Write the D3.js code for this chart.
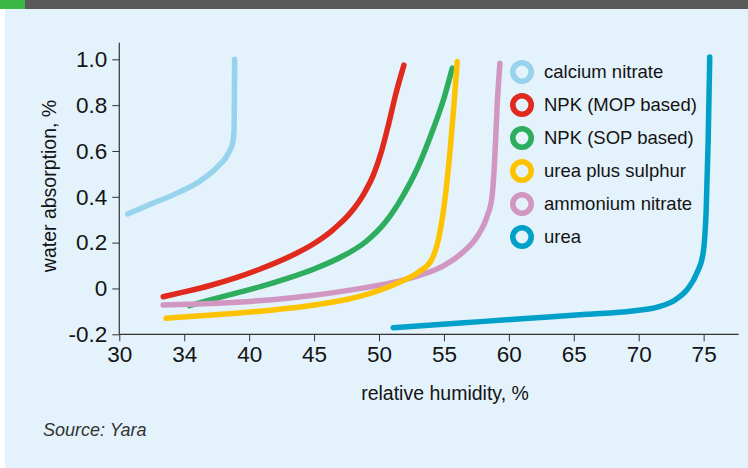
<!DOCTYPE html>
<html>
<head>
<meta charset="utf-8">
<script src="https://cdn.jsdelivr.net/npm/d3@7"></script>
<style>
  body { margin: 0; background: #fff; }
  svg text { font-family: "Liberation Sans", Arial, sans-serif; fill: #141414; }
</style>
</head>
<body>
<div id="chart"></div>
<script>
// humidity (%) vs water absorption (%)
let calciumNitrate = [[30.65,0.325],[32.3,0.365],[34.4,0.415],[36.2,0.468],[37.5,0.527],[38.4,0.59],[38.75,0.64],[38.84,0.7],[38.86,0.8],[38.88,1.0]];
let npkMop = [[33.38,-0.036],[35,-0.015],[37,0.013],[39,0.047],[41,0.088],[43,0.136],[45,0.196],[46.5,0.258],[47.8,0.33],[48.8,0.41],[49.6,0.5],[50.2,0.6],[50.75,0.72],[51.3,0.85],[51.92,0.975]];
let npkSop = [[35.4,-0.075],[37,-0.05],[39,-0.02],[41,0.01],[43,0.045],[45,0.085],[47,0.135],[49,0.205],[50.5,0.29],[51.8,0.4],[53,0.53],[54.2,0.7],[55,0.83],[55.64,0.961]];
let ureaSulphur = [[33.6,-0.13],[36,-0.12],[39,-0.108],[42,-0.093],[45,-0.072],[47.5,-0.048],[49.5,-0.018],[51.5,0.025],[53,0.07],[54,0.12],[54.6,0.22],[55.1,0.4],[55.5,0.62],[55.8,0.82],[56.02,0.99]];
let ammoniumNitrate = [[33.38,-0.072],[36,-0.068],[39,-0.06],[42,-0.048],[45,-0.03],[48,-0.005],[51,0.025],[53,0.055],[55,0.1],[56.5,0.16],[57.6,0.23],[58.3,0.31],[58.7,0.4],[58.9,0.55],[59.1,0.8],[59.31,0.983]];
let urea = [[51.09,-0.171],[56,-0.152],[61,-0.132],[66,-0.113],[69.5,-0.098],[71.5,-0.08],[72.8,-0.05],[73.8,0.0],[74.5,0.07],[74.95,0.15],[75.2,0.35],[75.35,0.65],[75.47,1.01]];

let seriesNames = ["calcium nitrate", "NPK (MOP based)", "NPK (SOP based)", "urea plus sulphur", "ammonium nitrate", "urea"];
let seriesColors = ["#97d3ec", "#df2a1d", "#2ead5f", "#fdc300", "#d196c1", "#00a0c9"];
let seriesData = [calciumNitrate, npkMop, npkSop, ureaSulphur, ammoniumNitrate, urea];

let xTicks = [30, 35, 40, 45, 50, 55, 60, 65, 70, 75];
let xTickLabels = ["30", "34", "40", "45", "50", "55", "60", "65", "70", "75"];
let yTicks = [-0.2, 0, 0.2, 0.4, 0.6, 0.8, 1.0];
let yTickLabels = ["-0.2", "0", "0.2", "0.4", "0.6", "0.8", "1.0"];

let W = 748, H = 468;
let svg = d3.select("#chart").append("svg")
    .attr("width", W)
    .attr("height", H);

// panel + top bar
svg.append("rect").attr("x", 5).attr("y", 0).attr("width", W - 5).attr("height", H).attr("fill", "#e3f2fb");
svg.append("rect").attr("x", 0).attr("y", 0).attr("width", W).attr("height", 9).attr("fill", "#5a5a5a");
svg.append("rect").attr("x", 0).attr("y", 0).attr("width", 25).attr("height", 9).attr("fill", "#3cb846");

let x = d3.scaleLinear().domain([30, 77.7]).range([119.3, 738.7]);
let y = d3.scaleLinear().domain([-0.2, 1.0]).range([334.3, 59.3]);

// x axis
let xAxis = svg.append("g")
    .attr("transform", "translate(0,334.3)")
    .call(d3.axisBottom(x).tickValues(xTicks).tickSize(7).tickPadding(5)
        .tickFormat(function(d, i) { return xTickLabels[i]; }));
xAxis.select(".domain").attr("d", "M" + x(30) + ",0H" + x(77.7)).attr("stroke", "#333").attr("stroke-width", 1.2);
xAxis.selectAll("line").attr("stroke", "#333");

// y axis
let yAxis = svg.append("g")
    .attr("transform", "translate(119.3,0)")
    .call(d3.axisLeft(y).tickValues(yTicks).tickSize(7).tickPadding(5)
        .tickFormat(function(d, i) { return yTickLabels[i]; }));
yAxis.select(".domain").attr("d", "M0," + y(-0.2) + "V" + y(1.072)).attr("stroke", "#333").attr("stroke-width", 1.2);
yAxis.selectAll("line").attr("stroke", "#333");

svg.selectAll(".tick text")
    .attr("font-family", null)
    .attr("fill", null)
    .style("font-size", "22.5px");

// axis titles
svg.append("text")
    .attr("x", 445).attr("y", 400)
    .attr("text-anchor", "middle")
    .style("font-size", "19.5px")
    .text("relative humidity, %");

svg.append("text")
    .attr("transform", "translate(56,186) rotate(-90)")
    .attr("text-anchor", "middle")
    .style("font-size", "19.5px")
    .text("water absorption, %");

svg.append("text")
    .attr("x", 43).attr("y", 436)
    .style("font-size", "18px")
    .style("font-style", "italic")
    .style("fill", "#333")
    .text("Source: Yara");

// lines
let line = d3.line()
    .x(function(d) { return x(d[0]); })
    .y(function(d) { return y(d[1]); })
    .curve(d3.curveMonotoneX);

// draw order: green under pink, yellow over pink
let drawOrder = [0, 2, 1, 4, 3, 5];
drawOrder.forEach(function(i) {
    svg.append("path")
        .datum(seriesData[i])
        .attr("d", line)
        .attr("fill", "none")
        .attr("stroke", seriesColors[i])
        .attr("stroke-width", 5.5)
        .attr("stroke-linecap", "round")
        .attr("stroke-linejoin", "round");
});

// legend
let legend = svg.append("g").attr("transform", "translate(522,72)");
seriesNames.forEach(function(name, i) {
    let g = legend.append("g").attr("transform", "translate(0," + (i * 33) + ")");
    g.append("circle")
        .attr("r", 9.2)
        .attr("fill", "none")
        .attr("stroke", seriesColors[i])
        .attr("stroke-width", 5.6);
    g.append("text")
        .attr("x", 22)
        .attr("dy", "0.35em")
        .style("font-size", "18.5px")
        .text(name);
});
</script>
</body>
</html>
